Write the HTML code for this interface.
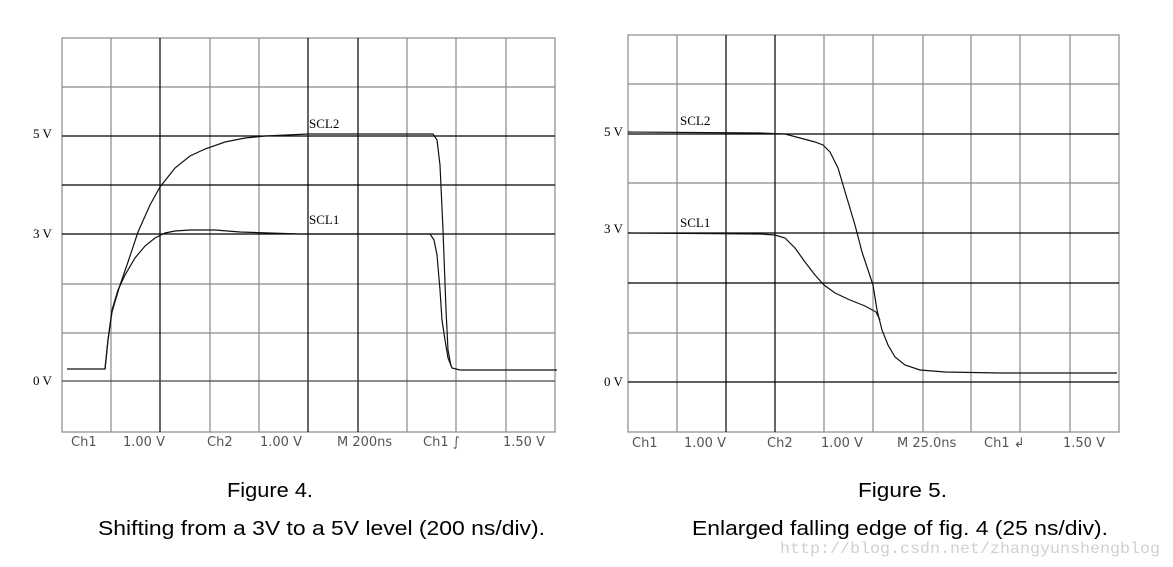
<!DOCTYPE html>
<html><head><meta charset="utf-8"><style>
html,body{margin:0;padding:0;background:#fff;}
svg{display:block;}
</style></head><body>
<svg width="1173" height="567" viewBox="0 0 1173 567" xmlns="http://www.w3.org/2000/svg">
<rect width="1173" height="567" fill="#fff"/>
<!-- LEFT GRID -->
<g stroke-width="1.2" fill="none">
<g stroke="#8a8a8a">
<line x1="111" y1="38" x2="111" y2="432"/>
<line x1="210" y1="38" x2="210" y2="432"/>
<line x1="259" y1="38" x2="259" y2="432"/>
<line x1="407" y1="38" x2="407" y2="432"/>
<line x1="456" y1="38" x2="456" y2="432"/>
<line x1="506" y1="38" x2="506" y2="432"/>
<line x1="62" y1="87" x2="555" y2="87"/>
<line x1="62" y1="284" x2="555" y2="284"/>
<line x1="62" y1="333" x2="555" y2="333"/>
<rect x="62" y="38" width="493" height="394"/>
</g>
<g stroke="#000">
<line x1="160" y1="38" x2="160" y2="432"/>
<line x1="308" y1="38" x2="308" y2="432"/>
<line x1="358" y1="38" x2="358" y2="432"/>
<line x1="62" y1="136" x2="555" y2="136"/>
<line x1="62" y1="185" x2="555" y2="185"/>
<line x1="62" y1="234" x2="555" y2="234"/>
<line x1="62" y1="381" x2="555" y2="381" stroke="#444"/>
</g>
</g>
<!-- LEFT CURVES -->
<g stroke="#111" stroke-width="1.2" fill="none">
<path d="M67,369 L105,369 L108,340 L112,310 L118,290 L125,275 L135,258 L145,246 L155,238 L165,233 L175,231 L190,230 L215,230 L240,232 L300,234 L430,234 L434,240 L437,255 L440,290 L442,320 L445,340 L448,358 L452,368 L460,370 L557,370"/>
<path d="M105,369 L108,340 L112,312 L120,285 L128,262 L138,232 L150,205 L160,187 L175,168 L190,156 L205,149 L225,142 L245,138 L265,136 L308,134 L433,134 L437,140 L440,165 L443,230 L446,310 L448,350 L451,366"/>
</g>
<g font-family="Liberation Serif, serif" font-size="13" fill="#000">
<text x="33" y="138">5 V</text>
<text x="33" y="238">3 V</text>
<text x="33" y="385">0 V</text>
<text x="309" y="128">SCL2</text>
<text x="309" y="224">SCL1</text>
</g>
<g font-family="DejaVu Sans, sans-serif" font-size="13" fill="#555">
<text x="71" y="446">Ch1</text>
<text x="123" y="446">1.00 V</text>
<text x="207" y="446">Ch2</text>
<text x="260" y="446">1.00 V</text>
<text x="337" y="446">M  200ns</text>
<text x="423" y="446">Ch1 ∫</text>
<text x="503" y="446">1.50 V</text>
</g>
<!-- RIGHT GRID -->
<g stroke-width="1.2" fill="none">
<g stroke="#8a8a8a">
<line x1="677" y1="35" x2="677" y2="432"/>
<line x1="824" y1="35" x2="824" y2="432"/>
<line x1="873" y1="35" x2="873" y2="432"/>
<line x1="923" y1="35" x2="923" y2="432"/>
<line x1="971" y1="35" x2="971" y2="432"/>
<line x1="1020" y1="35" x2="1020" y2="432"/>
<line x1="1070" y1="35" x2="1070" y2="432"/>
<line x1="628" y1="84" x2="1119" y2="84"/>
<line x1="628" y1="183" x2="1119" y2="183"/>
<line x1="628" y1="333" x2="1119" y2="333"/>
<rect x="628" y="35" width="491" height="397"/>
</g>
<g stroke="#000">
<line x1="726" y1="35" x2="726" y2="432"/>
<line x1="775" y1="35" x2="775" y2="432"/>
<line x1="628" y1="134" x2="1119" y2="134"/>
<line x1="628" y1="233" x2="1119" y2="233"/>
<line x1="628" y1="283" x2="1119" y2="283"/>
<line x1="628" y1="382" x2="1119" y2="382"/>
</g>
</g>
<g stroke="#111" stroke-width="1.2" fill="none">
<path d="M628,132 L760,133 L785,134 L800,138 L815,142 L823,145 L830,152 L838,168 L846,195 L855,225 L862,252 L868,270 L873,285 L877,310 L882,330 L888,345 L895,357 L905,365 L920,370 L945,372 L1000,373 L1117,373"/>
<path d="M628,233 L760,234 L775,235 L785,238 L795,248 L805,262 L815,275 L824,285 L835,293 L850,300 L865,306 L876,312 L880,320"/>
</g>
<g font-family="Liberation Serif, serif" font-size="13" fill="#000">
<text x="604" y="136">5 V</text>
<text x="604" y="233">3 V</text>
<text x="604" y="386">0 V</text>
<text x="680" y="125">SCL2</text>
<text x="680" y="227">SCL1</text>
</g>
<g font-family="DejaVu Sans, sans-serif" font-size="13" fill="#555">
<text x="632" y="447">Ch1</text>
<text x="684" y="447">1.00 V</text>
<text x="767" y="447">Ch2</text>
<text x="821" y="447">1.00 V</text>
<text x="897" y="447">M 25.0ns</text>
<text x="984" y="447">Ch1 ↲</text>
<text x="1063" y="447">1.50 V</text>
</g>
<!-- CAPTIONS -->
<g font-family="Liberation Sans, sans-serif" font-size="20" fill="#000">
<text x="227" y="497" textLength="86" lengthAdjust="spacingAndGlyphs">Figure 4.</text>
<text x="98" y="535" textLength="447" lengthAdjust="spacingAndGlyphs">Shifting from a 3V to a 5V level (200 ns/div).</text>
<text x="858" y="497" textLength="89" lengthAdjust="spacingAndGlyphs">Figure 5.</text>
<text x="692" y="535" textLength="416" lengthAdjust="spacingAndGlyphs">Enlarged falling edge of fig. 4 (25 ns/div).</text>
</g>
<text x="780" y="553" font-family="Liberation Mono, monospace" font-size="16" fill="#d0d0d0" textLength="380" lengthAdjust="spacingAndGlyphs">http://blog.csdn.net/zhangyunshengblog</text>
</svg>
</body></html>
